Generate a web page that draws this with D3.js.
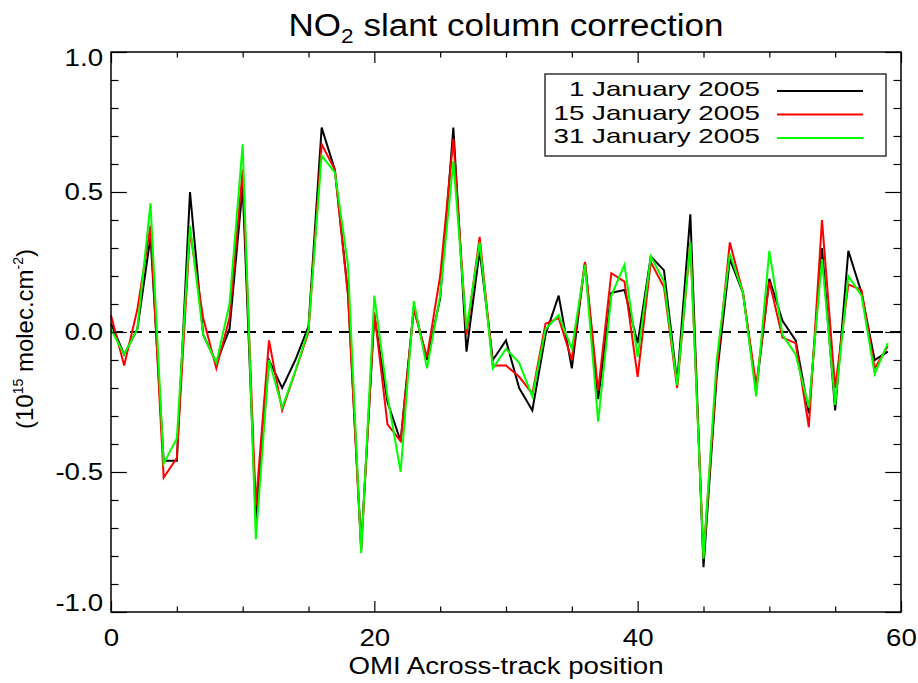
<!DOCTYPE html>
<html>
<head>
<meta charset="utf-8">
<script src="https://cdn.jsdelivr.net/npm/d3@7"></script>
<style>
body { margin: 0; background: #fff; }
text { font-family: "Liberation Sans", Arial, sans-serif; fill: #000; }
</style>
</head>
<body>
<svg id="chart" width="918" height="683"></svg>
<script>
// across-track positions
var positions = [0,1,2,3,4,5,6,7,8,9,10,11,12,13,14,15,16,17,18,19,
                 20,21,22,23,24,25,26,27,28,29,30,31,32,33,34,35,36,37,38,39,
                 40,41,42,43,44,45,46,47,48,49,50,51,52,53,54,55,56,57,58,59];

// slant column correction (10^15 molec/cm2)
var jan01 = [0.03,-0.08,0.01,0.34,-0.46,-0.46,0.50,-0.01,-0.11,0.01,
             0.52,-0.67,-0.10,-0.20,-0.10,0.02,0.73,0.58,0.14,-0.77,
             0.06,-0.25,-0.39,0.09,-0.10,0.12,0.73,-0.07,0.29,-0.10,
             -0.03,-0.20,-0.28,-0.01,0.13,-0.13,0.25,-0.24,0.14,0.15,
             -0.04,0.27,0.22,-0.18,0.42,-0.84,-0.16,0.26,0.14,-0.21,
             0.19,0.04,-0.03,-0.29,0.30,-0.28,0.29,0.14,-0.10,-0.07];
var jan15 = [0.06,-0.12,0.08,0.38,-0.52,-0.45,0.36,0.05,-0.13,0.05,
             0.58,-0.62,-0.03,-0.28,-0.14,0.00,0.67,0.58,0.13,-0.78,
             0.07,-0.33,-0.39,0.08,-0.09,0.20,0.69,-0.01,0.34,-0.12,
             -0.12,-0.16,-0.22,0.03,0.05,-0.10,0.25,-0.21,0.21,0.18,
             -0.16,0.25,0.16,-0.20,0.32,-0.80,-0.14,0.32,0.14,-0.19,
             0.18,-0.02,-0.04,-0.34,0.40,-0.20,0.17,0.15,-0.13,-0.05];
var jan31 = [0.01,-0.08,0.01,0.46,-0.47,-0.38,0.38,-0.01,-0.11,0.10,
             0.67,-0.74,-0.10,-0.27,-0.14,0.01,0.63,0.57,0.24,-0.79,
             0.13,-0.23,-0.50,0.11,-0.13,0.13,0.61,0.01,0.32,-0.13,
             -0.06,-0.11,-0.23,0.01,0.06,-0.06,0.24,-0.32,0.13,0.24,
             -0.09,0.27,0.18,-0.19,0.32,-0.81,-0.10,0.28,0.14,-0.23,
             0.29,-0.01,-0.08,-0.27,0.26,-0.26,0.20,0.13,-0.15,-0.04];

var seriesNames = ["1 January 2005", "15 January 2005", "31 January 2005"];
var seriesColors = ["#000000", "#ff0000", "#00ff00"];

// tick values
var xMajor = [0, 20, 40, 60];
var xMinor = [5, 10, 15, 25, 30, 35, 45, 50, 55];
var yMajor = [-1.0, -0.5, 0.0, 0.5, 1.0];
var yMinor = [-0.9,-0.8,-0.7,-0.6,-0.4,-0.3,-0.2,-0.1,0.1,0.2,0.3,0.4,0.6,0.7,0.8,0.9];

var svg = d3.select("#chart");
var margin = {top: 52, left: 111, right: 17, bottom: 71};
var W = 918 - margin.left - margin.right;
var H = 683 - margin.top - margin.bottom;
var sx = 1.13; // the fonts in the picture are a bit wide

var x = d3.scaleLinear().domain([0, 60]).range([0, W]);
var y = d3.scaleLinear().domain([-1, 1]).range([H, 0]);

var g = svg.append("g").attr("transform", "translate(" + margin.left + "," + margin.top + ")");

// zero line
g.append("line")
    .attr("x1", x(0)).attr("x2", x(60))
    .attr("y1", y(0)).attr("y2", y(0))
    .attr("stroke", "#000").attr("stroke-width", 2)
    .attr("stroke-dasharray", "12,7");

// series lines
var line = d3.line()
    .x(function(d, i) { return x(positions[i]); })
    .y(function(d) { return y(d); });

[jan01, jan15, jan31].forEach(function(s, k) {
    g.append("path")
        .datum(s)
        .attr("d", line)
        .attr("fill", "none")
        .attr("stroke", seriesColors[k])
        .attr("stroke-width", 2)
        .attr("stroke-linejoin", "miter");
});

// axes (ticks inward, IDL style)
function axisStyle(sel) {
    sel.select(".domain").remove();
    sel.selectAll(".tick line").attr("stroke", "#000").attr("stroke-width", 1.2);
    sel.selectAll("text").attr("font-size", 24.5).attr("fill", "#000");
}

g.append("g").attr("transform", "translate(0," + H + ")")
    .call(d3.axisBottom(x).tickValues(xMajor).tickSize(-11).tickFormat(d3.format("d")))
    .call(axisStyle)
    .call(function(s) {
        s.selectAll("text").attr("y", 34).attr("dy", 0)
            .attr("transform", "scale(" + sx + ",1)");
    });
g.append("g").attr("transform", "translate(0," + H + ")")
    .call(d3.axisBottom(x).tickValues(xMinor).tickSize(-5.5).tickFormat(""))
    .call(axisStyle);
g.append("g")
    .call(d3.axisTop(x).tickValues(xMajor).tickSize(-11).tickFormat(""))
    .call(axisStyle);
g.append("g")
    .call(d3.axisTop(x).tickValues(xMinor).tickSize(-5.5).tickFormat(""))
    .call(axisStyle);

g.append("g")
    .call(d3.axisLeft(y).tickValues(yMajor).tickSize(-15.8).tickPadding(7)
        .tickFormat(function(d) { return d.toFixed(1); }))
    .call(axisStyle)
    .call(function(s) {
        s.selectAll("text")
            .attr("transform", "scale(" + sx + ",1)")
            .attr("y", function(d) { return d === 1 ? 6 : (d === -1 ? -9 : 0); });
    });
g.append("g")
    .call(d3.axisLeft(y).tickValues(yMinor).tickSize(-7.5).tickFormat(""))
    .call(axisStyle);
g.append("g").attr("transform", "translate(" + W + ",0)")
    .call(d3.axisRight(y).tickValues(yMajor).tickSize(-15.8).tickFormat(""))
    .call(axisStyle);
g.append("g").attr("transform", "translate(" + W + ",0)")
    .call(d3.axisRight(y).tickValues(yMinor).tickSize(-7.5).tickFormat(""))
    .call(axisStyle);

// frame
g.append("rect")
    .attr("width", W).attr("height", H)
    .attr("fill", "none").attr("stroke", "#000").attr("stroke-width", 1.5);

// title
var title = svg.append("text")
    .attr("transform", "translate(" + (margin.left + W / 2) + ",36) scale(" + sx + ",1)")
    .attr("text-anchor", "middle")
    .attr("font-size", 31);
title.append("tspan").text("NO");
title.append("tspan").attr("font-size", 20).attr("dy", 7).text("2");
title.append("tspan").attr("dy", -7).text(" slant column correction");

// x label
svg.append("text")
    .attr("transform", "translate(" + (margin.left + W / 2) + ",674) scale(" + sx + ",1)")
    .attr("text-anchor", "middle")
    .attr("font-size", 24.5)
    .text("OMI Across-track position");

// y label
var ylab = svg.append("text")
    .attr("transform", "translate(33,339) rotate(-90)")
    .attr("text-anchor", "middle")
    .attr("font-size", 24);
ylab.append("tspan").text("(10");
ylab.append("tspan").attr("font-size", 14).attr("dy", -10).text("15");
ylab.append("tspan").attr("dy", 10).text(" molec.cm");
ylab.append("tspan").attr("font-size", 14).attr("dy", -10).text("-2");
ylab.append("tspan").attr("dy", 10).text(")");

// legend
var legend = svg.append("g").attr("class", "legend");
legend.append("rect")
    .attr("x", 545).attr("y", 74)
    .attr("width", 341).attr("height", 82)
    .attr("fill", "#fff").attr("stroke", "#333").attr("stroke-width", 1.5);

var rowY = [96, 119.5, 143];
legend.selectAll("text")
    .data(seriesNames)
    .enter().append("text")
        .attr("transform", function(d, i) { return "translate(760," + rowY[i] + ") scale(1.29,0.93)"; })
        .attr("text-anchor", "end")
        .attr("font-size", 21.5)
        .text(function(d) { return d; });

legend.selectAll("line")
    .data(seriesColors)
    .enter().append("line")
        .attr("x1", 777).attr("x2", 863)
        .attr("y1", function(d, i) { return rowY[i] - 5; })
        .attr("y2", function(d, i) { return rowY[i] - 5; })
        .attr("stroke", function(d) { return d; })
        .attr("stroke-width", 2);
</script>
</body>
</html>
